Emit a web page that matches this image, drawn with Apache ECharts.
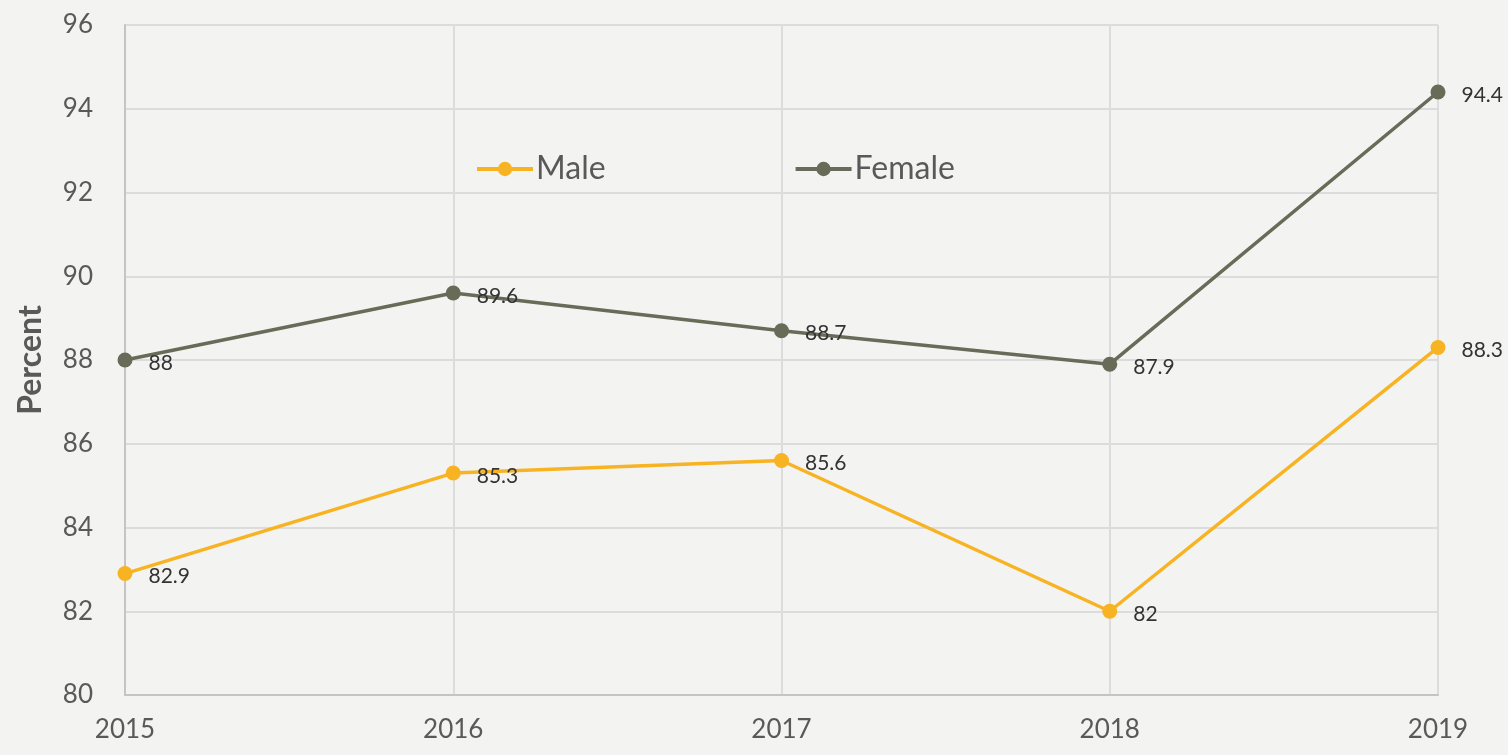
<!DOCTYPE html>
<html>
<head>
<meta charset="utf-8">
<script src="https://cdn.jsdelivr.net/npm/echarts@6/dist/echarts.min.js"></script>
<style>
  html, body { margin: 0; padding: 0; background: #f3f3f1; }
  #chart { width: 1508px; height: 755px; }
</style>
</head>
<body>
<div id="chart"></div>
<script>
const years = ['2015', '2016', '2017', '2018', '2019'];
const male = [82.9, 85.3, 85.6, 82.0, 88.3];
const female = [88.0, 89.6, 88.7, 87.9, 94.4];

const font = 'Lato, "Open Sans", sans-serif';
const maleColor = '#f8b323';
const femaleColor = '#696b59';

const chart = echarts.init(document.getElementById('chart'));

const labelStyle = {
    show: true,
    position: 'right',
    distance: 16,
    offset: [0, 3],
    fontFamily: font,
    fontSize: 21,
    color: '#333333',
    formatter: p => String(p.value)
};

chart.setOption({
    backgroundColor: '#f3f3f1',
    animation: false,
    textStyle: { fontFamily: font },
    grid: { left: 125, right: 70, top: 25, bottom: 60 },
    legend: {
        left: 470,
        top: 148,
        itemWidth: 56,
        itemHeight: 18,
        itemGap: 188,
        lineStyle: { width: 4 },
        textStyle: { fontSize: 32, color: '#595959', fontFamily: font, padding: [0, 0, 0, -2] },
        data: ['Male', 'Female']
    },
    xAxis: {
        type: 'category',
        data: years,
        boundaryGap: false,
        axisLine: { lineStyle: { color: '#c4c4c4', width: 2 } },
        axisTick: { show: false },
        axisLabel: { fontSize: 26, color: '#595959', margin: 22 },
        splitLine: { show: true, lineStyle: { color: '#dcdcdc', width: 2 } }
    },
    yAxis: {
        type: 'value',
        min: 80,
        max: 96,
        interval: 2,
        name: 'Percent',
        nameLocation: 'middle',
        nameGap: 78,
        nameRotate: 90,
        nameTextStyle: { fontSize: 32, fontWeight: 'bold', color: '#595959' },
        axisLine: { show: true, lineStyle: { color: '#c4c4c4', width: 2 } },
        axisTick: { show: false },
        axisLabel: { fontSize: 26, color: '#595959', margin: 32 },
        splitLine: { lineStyle: { color: '#dcdcdc', width: 2 } }
    },
    series: [
        {
            name: 'Male',
            type: 'line',
            data: male,
            symbol: 'circle',
            symbolSize: 15,
            lineStyle: { color: maleColor, width: 3.5 },
            itemStyle: { color: maleColor },
            label: labelStyle
        },
        {
            name: 'Female',
            type: 'line',
            data: female,
            symbol: 'circle',
            symbolSize: 15,
            lineStyle: { color: femaleColor, width: 3.5 },
            itemStyle: { color: femaleColor },
            label: labelStyle
        }
    ]
});
</script>
</body>
</html>
